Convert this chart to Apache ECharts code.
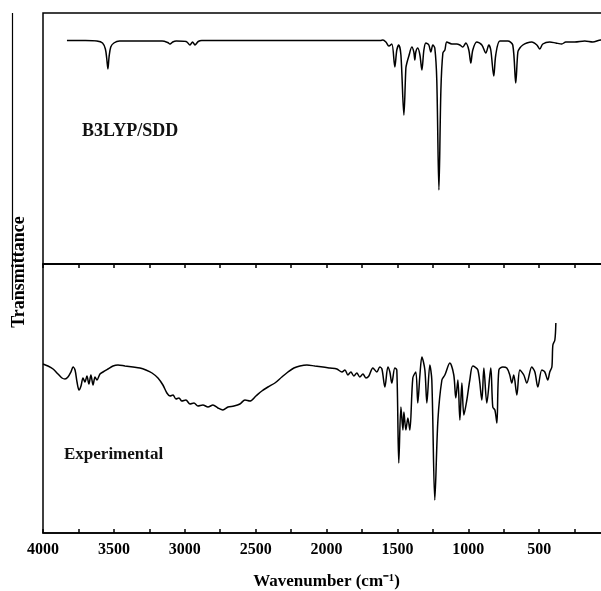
<!DOCTYPE html>
<html>
<head>
<meta charset="utf-8">
<script src="https://cdn.jsdelivr.net/npm/echarts@6/dist/echarts.min.js"></script>
<style>
  html, body { margin: 0; padding: 0; background: #fff; }
  #chart { width: 601px; height: 591px; }
</style>
</head>
<body>
<div id="chart"></div>
<script>
// wavenumber ticks (labels every 500, ticks every 250)
const tickLabels = [4000, 3500, 3000, 2500, 2000, 1500, 1000, 500];

// computed spectrum, [wavenumber, transmittance (a.u.)]
const calcSpectrum = [
  [3831, 223.5], [3700, 223.5], [3620, 223], [3580, 221], [3560, 215], [3550, 205],
  [3542, 195], [3534, 207], [3522, 217], [3500, 221], [3460, 223], [3160, 223],
  [3120, 221.5], [3104, 220], [3085, 222], [3060, 223], [2990, 222.5], [2963, 219],
  [2945, 222], [2928, 219], [2905, 222.5], [2880, 223.5], [1620, 223.5],
  [1602, 224], [1581, 222], [1560, 218], [1539, 220], [1518, 197], [1504, 214],
  [1490, 219], [1475, 209], [1454, 149], [1440, 196], [1433, 201], [1419, 208],
  [1398, 217], [1384, 212], [1377, 204], [1370, 212], [1356, 216], [1341, 209],
  [1327, 194], [1313, 214], [1299, 221], [1278, 219], [1264, 212], [1250, 219],
  [1236, 216], [1222, 184], [1207, 74], [1193, 174], [1179, 211], [1165, 214],
  [1151, 222], [1116, 220], [1081, 220], [1059, 219], [1038, 217], [1017, 221],
  [996, 214], [982, 201], [968, 214], [940, 222], [904, 219], [876, 211],
  [855, 219], [841, 214], [820, 188], [806, 209], [777, 223], [721, 223],
  [686, 219], [665, 181], [650, 212], [636, 216], [615, 219], [587, 221],
  [552, 222], [516, 219], [495, 215], [474, 220], [425, 222], [382, 221],
  [340, 220], [312, 222], [248, 222], [178, 223], [121, 222], [65, 224], [0, 224]
];

// experimental spectrum, [wavenumber, transmittance (a.u.)]
const expSpectrum = [
  [4000, 169], [3965, 167], [3929, 164], [3894, 159], [3866, 155], [3845, 154],
  [3824, 156], [3803, 161], [3788, 166], [3774, 163], [3760, 151], [3746, 143],
  [3732, 147], [3718, 155], [3704, 151], [3690, 157], [3676, 149], [3662, 158],
  [3647, 148], [3633, 156], [3619, 153], [3598, 159], [3577, 161], [3542, 164],
  [3506, 167], [3471, 168], [3422, 167], [3365, 166], [3316, 165], [3274, 163],
  [3231, 160], [3189, 155], [3154, 148], [3126, 140], [3104, 137], [3083, 138],
  [3062, 134], [3041, 135], [3020, 132], [2992, 133], [2963, 129], [2935, 130],
  [2907, 127], [2872, 128], [2836, 126], [2801, 128], [2766, 125], [2731, 123],
  [2695, 126], [2653, 127], [2611, 129], [2575, 133], [2540, 132], [2498, 137],
  [2456, 142], [2413, 146], [2364, 150], [2315, 156], [2272, 161], [2230, 165],
  [2188, 167], [2138, 168], [2082, 167], [2025, 166], [1976, 165], [1927, 164],
  [1891, 161], [1870, 163], [1849, 158], [1828, 161], [1807, 157], [1786, 160],
  [1765, 156], [1743, 159], [1722, 155], [1701, 157], [1673, 165], [1645, 161],
  [1624, 166], [1609, 164], [1588, 146], [1567, 166], [1553, 161], [1539, 150],
  [1518, 165], [1504, 163], [1490, 70], [1475, 126], [1461, 103], [1454, 121],
  [1440, 103], [1426, 115], [1412, 103], [1391, 155], [1370, 161], [1356, 130],
  [1341, 158], [1327, 176], [1306, 163], [1292, 130], [1271, 168], [1257, 153],
  [1236, 33], [1214, 113], [1186, 153], [1165, 158], [1130, 170], [1102, 158],
  [1088, 135], [1073, 153], [1059, 113], [1045, 150], [1031, 118], [1010, 133],
  [989, 153], [968, 167], [932, 163], [904, 133], [890, 165], [869, 130],
  [841, 165], [827, 126], [812, 123], [798, 110], [784, 163], [756, 166],
  [728, 165], [707, 158], [693, 150], [679, 158], [657, 138], [636, 163],
  [608, 158], [587, 150], [552, 166], [530, 161], [509, 146], [481, 163],
  [460, 161], [439, 153], [425, 161], [410, 166], [403, 188], [389, 193], [382, 210]
];

const serif = "Liberation Serif";
const chart = echarts.init(document.getElementById("chart"));

const xBase = {
  type: "value",
  min: 0,
  max: 4000,
  interval: 250,
  inverse: true,
  splitLine: { show: false },
  axisLine: { lineStyle: { color: "#000", width: 1.5 } },
  axisTick: { lineStyle: { color: "#000", width: 1.5 }, length: 4 },
};

chart.setOption({
  animation: false,
  grid: [
    { left: 43, width: 567, top: 13, height: 251, outerBoundsMode: "none", containLabel: false, show: true, borderColor: "#000", borderWidth: 1.5 },
    { left: 43, width: 567, top: 264, height: 269, outerBoundsMode: "none", containLabel: false, show: true, borderColor: "#000", borderWidth: 1.5 },
  ],
  title: [
    { text: "B3LYP/SDD", left: 77, top: 117, textStyle: { fontFamily: serif, fontSize: 18, fontWeight: "bold", color: "#111" } },
    { text: "Experimental", left: 59, top: 441, textStyle: { fontFamily: serif, fontSize: 17, fontWeight: "bold", color: "#111" } },
  ],
  xAxis: [
    Object.assign({}, xBase, {
      gridIndex: 0,
      position: "bottom",
      axisTick: Object.assign({}, xBase.axisTick, { inside: false }),
      axisLabel: { show: false },
    }),
    Object.assign({}, xBase, {
      gridIndex: 1,
      position: "bottom",
      axisTick: Object.assign({}, xBase.axisTick, { inside: true }),
      axisLabel: {
        color: "#000",
        fontFamily: serif,
        fontSize: 16,
        fontWeight: "bold",
        margin: 9,
        formatter: (v) => (tickLabels.indexOf(v) >= 0 ? String(v) : ""),
      },
      name: "Wavenumber (cm\u207B\u00B9)",
      nameLocation: "middle",
      nameGap: 40,
      nameTextStyle: { color: "#000", fontFamily: serif, fontSize: 17, fontWeight: "bold" },
    }),
  ],
  yAxis: [
    { type: "value", gridIndex: 0, min: 0, max: 251, show: false },
    { type: "value", gridIndex: 1, min: 0, max: 269, show: false },
  ],
  graphic: [
    {
      type: "text",
      x: 19,
      y: 272,
      rotation: Math.PI / 2,
      style: {
        text: "Transmittance",
        fontFamily: serif,
        fontSize: 18,
        fontWeight: "bold",
        fill: "#000",
        align: "center",
        verticalAlign: "middle",
      },
    },
    {
      type: "line",
      shape: { x1: 12.5, y1: 13, x2: 12.5, y2: 300 },
      style: { stroke: "#000", lineWidth: 1.2 },
    },
  ],
  series: [
    {
      type: "line",
      xAxisIndex: 0,
      yAxisIndex: 0,
      data: calcSpectrum,
      symbol: "none",
      smooth: 0.3,
      lineStyle: { color: "#000", width: 1.5 },
    },
    {
      type: "line",
      xAxisIndex: 1,
      yAxisIndex: 1,
      data: expSpectrum,
      symbol: "none",
      smooth: 0.3,
      lineStyle: { color: "#000", width: 1.5 },
    },
  ],
});
</script>
</body>
</html>
